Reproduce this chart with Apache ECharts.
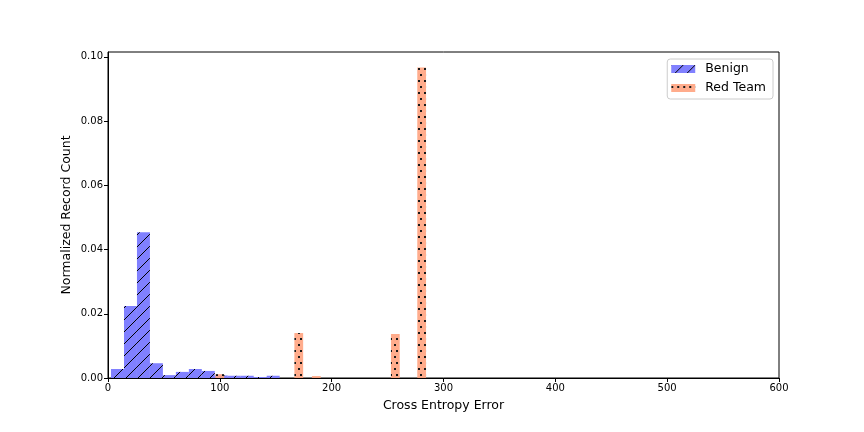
<!DOCTYPE html>
<html>
<head>
<meta charset="utf-8">
<script src="https://cdn.jsdelivr.net/npm/echarts@6/dist/echarts.min.js"></script>
<style>html,body{margin:0;padding:0;background:#fff}#c{width:864px;height:432px}</style>
</head>
<body>
<div id="c"></div>
<script>
// ---- data ----
var benignBinEdges = [2.7, 14.3, 25.9, 37.5, 49.1, 60.7, 72.3, 83.9, 95.5, 107.1, 118.7, 130.3, 141.9, 153.5];
var benignValues   = [0.0028, 0.0224, 0.0454, 0.0046, 0.0009, 0.0019, 0.0028, 0.0022, 0.0008, 0.0007, 0.0007, 0.0003, 0.0007];
var redBinEdges = [96.0, 103.85, 111.7, 119.55, 127.4, 135.25, 143.1, 150.95, 158.8, 166.65, 174.5, 182.35, 190.2, 198.05, 205.9, 213.75, 221.6, 229.45, 237.3, 245.15, 253.0, 260.85, 268.7, 276.55, 284.4];
var redValues   = [0.0012, 0, 0, 0, 0, 0, 0, 0, 0, 0.0140, 0, 0.0006, 0, 0, 0, 0, 0, 0, 0, 0, 0.0137, 0, 0, 0.0967];
var seriesNames = ['Benign', 'Red Team'];
var xTicks = [0, 100, 200, 300, 400, 500, 600];
var yTicks = [0, 0.02, 0.04, 0.06, 0.08, 0.10];

function toRects(edges, vals) {
  var out = [];
  for (var i = 0; i < vals.length; i++) {
    if (vals[i] > 0) out.push([edges[i], edges[i + 1], vals[i]]);
  }
  return out;
}

function hatchPattern() {
  var s = 12, c = document.createElement('canvas');
  c.width = s; c.height = s;
  var g = c.getContext('2d');
  g.fillStyle = 'rgb(128,128,255)';
  g.fillRect(0, 0, s, s);
  g.strokeStyle = '#000'; g.lineWidth = 1;
  g.beginPath();
  g.moveTo(-2, s + 2); g.lineTo(s + 2, -2);
  g.moveTo(-2, 2); g.lineTo(2, -2);
  g.moveTo(s - 2, s + 2); g.lineTo(s + 2, s - 2);
  g.stroke();
  return {image: c, repeat: 'repeat'};
}
function dotPattern() {
  var c = document.createElement('canvas');
  c.width = 6; c.height = 12;
  var g = c.getContext('2d');
  g.fillStyle = 'rgb(255,163,128)';
  g.fillRect(0, 0, 6, 12);
  g.fillStyle = '#000';
  g.fillRect(0, 2, 2, 2);
  g.fillRect(4, 8, 2, 2);
  return {image: c, repeat: 'repeat'};
}

function renderRect(params, api) {
  var p0 = api.coord([api.value(0), 0]);
  var p1 = api.coord([api.value(1), api.value(2)]);
  return {
    type: 'rect',
    shape: {x: p0[0], y: p1[1], width: p1[0] - p0[0], height: p0[1] - p1[1]},
    style: api.style()
  };
}

var chart = echarts.init(document.getElementById('c'), null, {renderer: 'canvas'});
var font = 'DejaVu Sans';
chart.setOption({
  animation: false,
  textStyle: {fontFamily: font},
  grid: {left: 108, right: 85, top: 52, bottom: 54, show: true, borderColor: '#000', borderWidth: 1, backgroundColor: 'transparent'},
  legend: {
    data: seriesNames,
    right: 91, top: 59,
    orient: 'vertical',
    icon: 'rect',
    itemWidth: 24, itemHeight: 8, itemGap: 5,
    padding: [3, 7, 4, 4],
    borderColor: '#ccc', borderWidth: 1, borderRadius: 3,
    textStyle: {fontFamily: font, fontSize: 12.5, color: '#000', lineHeight: 14, padding: [0, 0, 0, 5]}
  },
  xAxis: {
    type: 'value', min: xTicks[0], max: xTicks[xTicks.length - 1], interval: 100,
    name: 'Cross Entropy Error', nameLocation: 'middle', nameGap: 21, nameMoveOverlap: false,
    nameTextStyle: {fontFamily: font, fontSize: 12.5, color: '#000'},
    axisLine: {show: true, onZero: false, lineStyle: {color: '#000', width: 1}},
    axisTick: {show: true, inside: false, length: 4, lineStyle: {color: '#000'}},
    axisLabel: {fontFamily: font, fontSize: 10, color: '#000', margin: 5},
    splitLine: {show: false}
  },
  yAxis: {
    type: 'value', min: 0, max: 0.1015, interval: 0.02,
    name: 'Normalized Record Count', nameLocation: 'middle', nameGap: 35, nameMoveOverlap: false,
    nameTextStyle: {fontFamily: font, fontSize: 12.5, color: '#000'},
    axisLine: {show: true, lineStyle: {color: '#000', width: 1}},
    axisTick: {show: true, inside: false, length: 4, lineStyle: {color: '#000'}},
    axisLabel: {fontFamily: font, fontSize: 10, color: '#000', margin: 5, showMaxLabel: false,
      formatter: function (v) { return v.toFixed(2); }},
    splitLine: {show: false}
  },
  series: [
    {name: seriesNames[0], type: 'custom', renderItem: renderRect, encode: {x: [0, 1], y: 2},
     itemStyle: {color: hatchPattern()}, data: toRects(benignBinEdges, benignValues), z: 2},
    {name: seriesNames[1], type: 'custom', renderItem: renderRect, encode: {x: [0, 1], y: 2},
     itemStyle: {color: dotPattern(), opacity: 0.9}, data: toRects(redBinEdges, redValues), z: 3}
  ]
});
</script>
</body>
</html>
